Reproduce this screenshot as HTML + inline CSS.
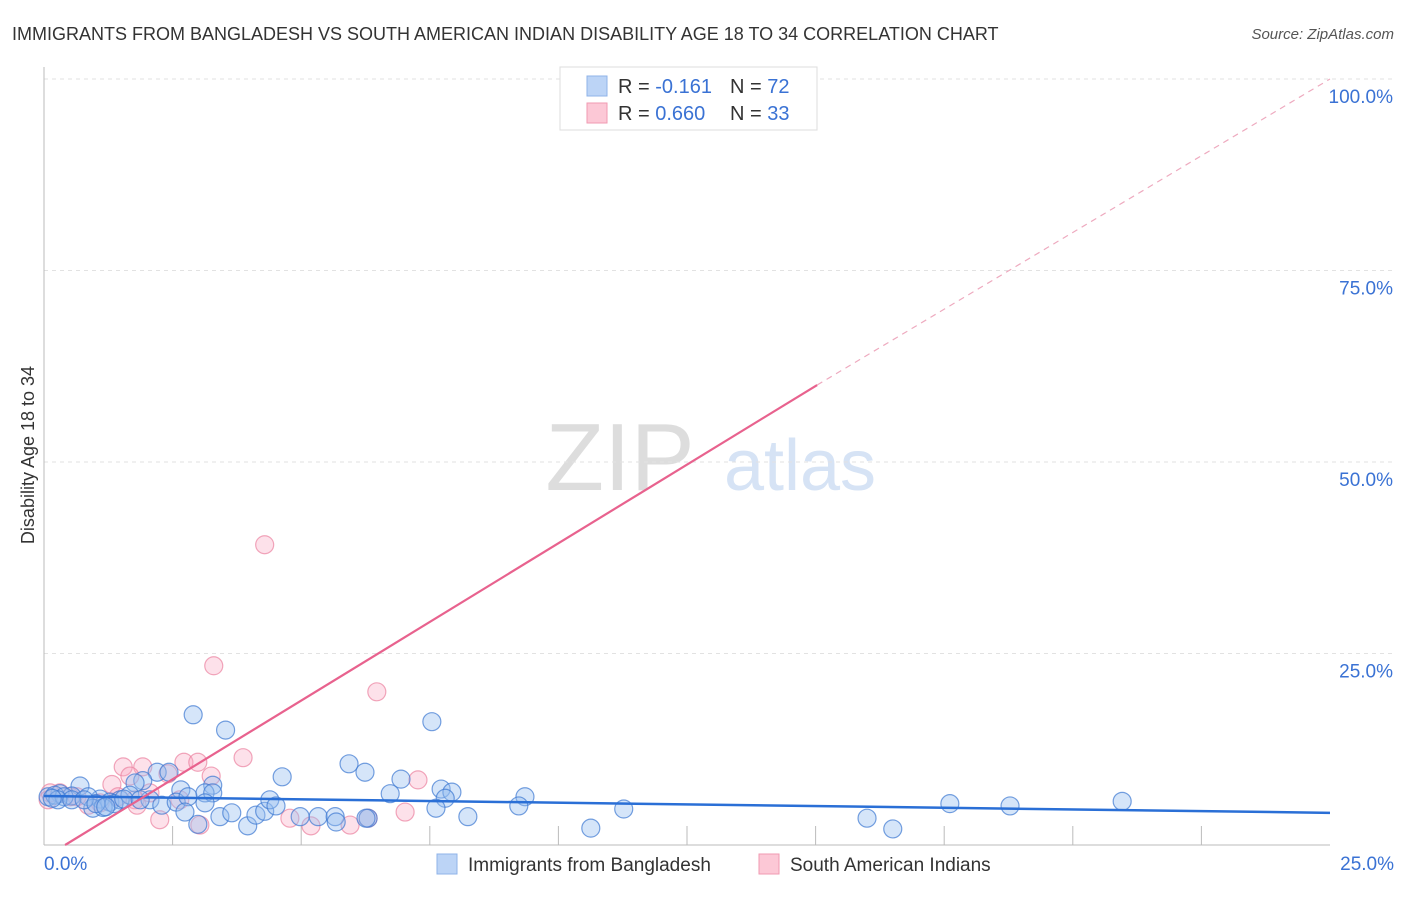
<!DOCTYPE html>
<html><head><meta charset="utf-8">
<style>
body{margin:0;background:#fff;font-family:"Liberation Sans",sans-serif;}
svg text{font-family:"Liberation Sans",sans-serif;}
</style></head>
<body>
<svg id="chart" width="1406" height="892" xmlns="http://www.w3.org/2000/svg">
<text x="12" y="40" font-size="18" fill="#333">IMMIGRANTS FROM BANGLADESH VS SOUTH AMERICAN INDIAN DISABILITY AGE 18 TO 34 CORRELATION CHART</text>
<text x="1394" y="39" font-size="15" fill="#555" font-style="italic" text-anchor="end">Source: ZipAtlas.com</text>
<text x="620" y="490" font-size="96" fill="#ddd" font-family="Liberation Serif" text-anchor="middle">ZIP</text>
<text x="800" y="490" font-size="72" fill="#d6e3f5" text-anchor="middle">atlas</text>
<text transform="translate(34,455) rotate(-90)" font-size="18" fill="#333" text-anchor="middle">Disability Age 18 to 34</text>
<g id="grid"></g><g id="axes"></g><g id="marks"></g>
<g>
<rect x="560" y="67" width="257" height="63" fill="#fff" stroke="#ddd"/>
<rect x="587" y="76" width="20" height="20" fill="#bcd4f6" stroke="#8fb3e8"/>
<rect x="587" y="103" width="20" height="20" fill="#fcc8d6" stroke="#f09ab2"/>
<text x="618" y="93" font-size="20" fill="#333">R = <tspan fill="#3a72d4">-0.161</tspan></text>
<text x="730" y="93" font-size="20" fill="#333">N = <tspan fill="#3a72d4">72</tspan></text>
<text x="618" y="120" font-size="20" fill="#333">R = <tspan fill="#3a72d4">0.660</tspan></text>
<text x="730" y="120" font-size="20" fill="#333">N = <tspan fill="#3a72d4">33</tspan></text>
</g>
<g>
<rect x="437" y="854" width="20" height="20" fill="#bcd4f6" stroke="#8fb3e8"/>
<text x="468" y="871" font-size="19" fill="#333">Immigrants from Bangladesh</text>
<rect x="759" y="854" width="20" height="20" fill="#fcc8d6" stroke="#f09ab2"/>
<text x="790" y="871" font-size="19" fill="#333">South American Indians</text>
</g>
</svg>
<script>
const yTicks=[25,50,75,100];
const yTickLabels=["25.0%","50.0%","75.0%","100.0%"];
const xTickLabels=["0.0%","25.0%"];
const blueX=[2.9,3.53,7.54,5.93,6.24,4.63,6.94,6.73,7.72,7.93,7.8,9.35,3.28,2.66,2.2,2.43,1.92,1.77,0.7,0.31,0.54,1.09,1.28,1.48,1.67,2.06,2.29,2.57,2.8,3.13,3.28,3.13,2.74,2.99,3.42,3.65,3.96,4.12,4.29,4.39,4.51,4.98,5.33,5.66,5.68,6.3,6.26,7.62,8.24,9.23,10.63,11.27,16.0,16.5,17.61,18.78,20.96,0.08,0.21,0.86,0.95,1.15,1.36,1.55,1.87,0.39,0.27,0.54,0.78,1.01,0.16,1.2];
const blueY=[17.0,15.0,16.1,10.6,9.5,8.9,8.6,6.7,7.3,6.9,6.1,6.3,7.8,7.2,9.5,9.5,8.4,8.1,7.7,6.7,6.4,6.0,5.6,5.9,6.5,5.9,5.2,5.6,6.3,6.8,6.8,5.5,4.3,2.7,3.7,4.2,2.5,3.9,4.4,5.9,5.1,3.7,3.7,3.7,3.0,3.5,3.5,4.8,3.7,5.1,2.2,4.7,3.5,2.1,5.4,5.1,5.7,6.3,6.5,6.3,4.8,4.9,5.4,6.0,5.9,6.3,5.9,5.9,5.9,5.4,6.1,5.0];
const pinkX=[14.3,4.29,3.3,6.47,3.87,2.72,2.99,1.54,1.92,1.67,1.32,3.25,7.27,2.41,1.77,1.09,0.86,2.25,3.03,4.78,5.19,5.95,6.3,7.02,1.81,0.31,0.12,0.51,0.08,0.64,2.06,1.44,2.64];
const pinkY=[100,39.2,23.4,20.0,11.4,10.8,10.8,10.2,10.2,9.0,7.9,9.0,8.5,9.3,5.9,5.5,5.2,3.3,2.6,3.5,2.5,2.6,3.5,4.3,5.2,6.8,6.8,6.3,5.9,6.3,6.8,6.3,5.9];
const blueLine=[[0,6.4],[25,4.2]];
const pinkLine=[[0.41,0],[15.03,60.05]];
const pinkDash=[[15.03,60.05],[25,100]];
const X=v=>44+v/25*1286, Y=v=>845-v/100*766;
const NS="http://www.w3.org/2000/svg";
function mk(tag,attrs,parent){const e=document.createElementNS(NS,tag);for(const k in attrs)e.setAttribute(k,attrs[k]);document.getElementById(parent).appendChild(e);return e;}
yTicks.forEach((t,i)=>{
 const g=mk('line',{x1:44,x2:1394,y1:Y(t),y2:Y(t),stroke:'#e2e2e2','stroke-dasharray':'4,4'},'grid');
 
 
 const l=mk('text',{x:1393,y:Y(t)+24,'font-size':19,fill:'#3a72d4','text-anchor':'end'},'axes');
 l.textContent=yTickLabels[i];
 
 
});
const ya=mk('line',{x1:44,x2:44,y1:67,y2:845,stroke:'#bbb'},'axes');


const xa=mk('line',{x1:44,x2:1330,y1:845,y2:845,stroke:'#bbb'},'axes');


for(let i=1;i<10;i++){const tk=mk('line',{x1:X(i*2.5),x2:X(i*2.5),y1:826,y2:845,stroke:'#bbb'},'axes');
 
 }
[[0,'start',44],[1,'end',1394]].forEach(([i,a,x])=>{const t=mk('text',{x:x,y:870,'font-size':19,fill:'#3a72d4','text-anchor':a},'axes');t.textContent=xTickLabels[i];
 
 });
pinkX.forEach((v,i)=>{const c=mk('circle',{cx:X(v),cy:Y(pinkY[i]),r:9,fill:'rgba(248,170,195,0.35)',stroke:'rgba(235,130,160,0.7)','stroke-width':1.2},'marks');
 
 });
blueX.forEach((v,i)=>{const c=mk('circle',{cx:X(v),cy:Y(blueY[i]),r:9,fill:'rgba(150,190,240,0.4)',stroke:'rgba(60,120,210,0.7)','stroke-width':1.2},'marks');
 
 });
const bl=mk('line',{x1:X(blueLine[0][0]),y1:Y(blueLine[0][1]),x2:X(blueLine[1][0]),y2:Y(blueLine[1][1]),stroke:'#2a6fd6','stroke-width':2.5},'marks');


const pl=mk('line',{x1:X(pinkLine[0][0]),y1:Y(pinkLine[0][1]),x2:X(pinkLine[1][0]),y2:Y(pinkLine[1][1]),stroke:'#e8628e','stroke-width':2.2},'marks');


const pd=mk('line',{x1:X(pinkDash[0][0]),y1:Y(pinkDash[0][1]),x2:X(pinkDash[1][0]),y2:Y(pinkDash[1][1]),stroke:'#eeaabf','stroke-width':1.2,'stroke-dasharray':'6,5'},'marks');


</script>
</body></html>
